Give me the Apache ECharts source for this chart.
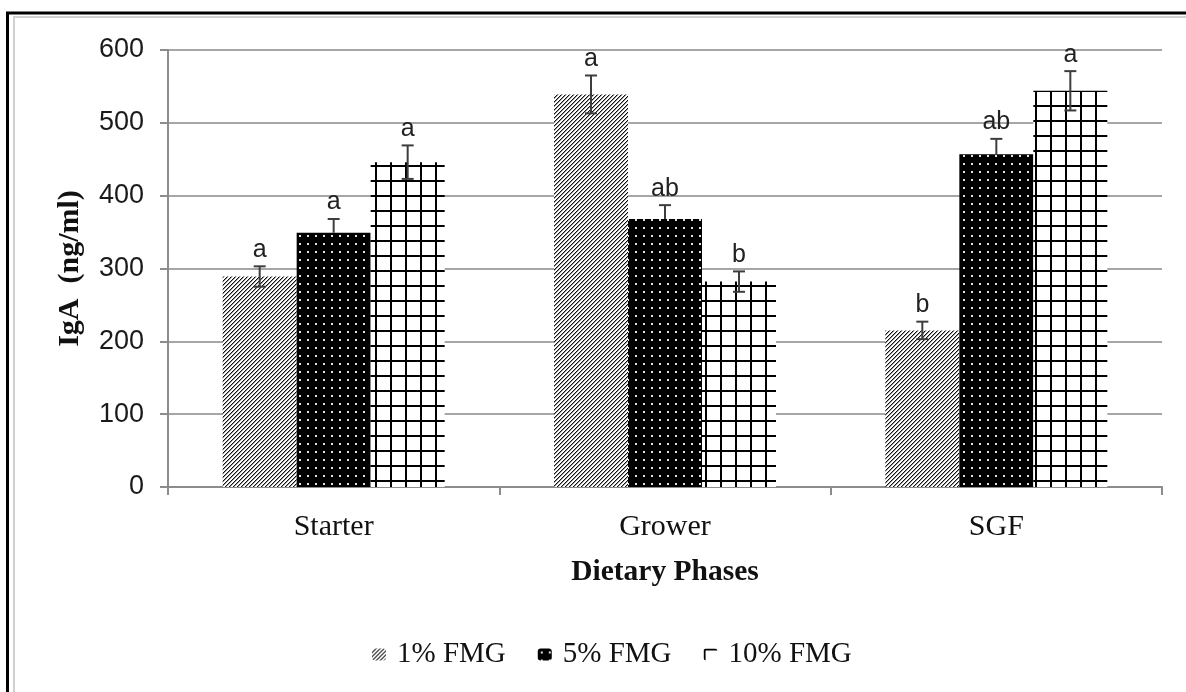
<!DOCTYPE html>
<html>
<head>
<meta charset="utf-8">
<script src="https://cdn.jsdelivr.net/npm/echarts@6/dist/echarts.min.js"></script>
<style>
html,body{margin:0;padding:0;background:#fff;}
#chart{width:1186px;height:692px;}
</style>
</head>
<body>
<div id="chart"></div>
<script>
// ---- data ----
const categories = ['Starter', 'Grower', 'SGF'];
const seriesNames = ['1% FMG', '5% FMG', '10% FMG'];
const fmg1 = [289, 539, 215];
const fmg5 = [349, 368, 457];
const fmg10 = [446, 282, 544];
const err1 = [14, 26, 12];
const err5 = [19, 19, 21];
const err10 = [23, 14, 27];
const letters1 = ['a', 'a', 'b'];
const letters5 = ['a', 'ab', 'ab'];
const letters10 = ['a', 'b', 'a'];
const yTicks = [0, 100, 200, 300, 400, 500, 600];

// ---- patterns ----
function makeTile(w, h, draw) {
  const c = document.createElement('canvas');
  c.width = w; c.height = h;
  const ctx = c.getContext('2d');
  draw(ctx, w, h);
  return c;
}
const hatchTile = makeTile(4, 4, (ctx) => {
  ctx.fillStyle = '#fff'; ctx.fillRect(0, 0, 4, 4);
  ctx.fillStyle = '#9a9a9a';
  for (let i = 0; i < 4; i++) ctx.fillRect((i + 1) % 4, 3 - i, 1, 1);
  ctx.fillStyle = '#111';
  for (let i = 0; i < 4; i++) ctx.fillRect(i, 3 - i, 1, 1);
});
const dotTile = makeTile(8, 8, (ctx) => {
  ctx.fillStyle = '#000'; ctx.fillRect(0, 0, 8, 8);
  ctx.fillStyle = '#e6e6e6'; ctx.fillRect(3, 3, 2, 2);
});
const gridTile = makeTile(15, 15, (ctx) => {
  ctx.fillStyle = '#fff'; ctx.fillRect(0, 0, 15, 15);
  ctx.fillStyle = '#000';
  ctx.fillRect(0, 0, 2, 15);
  ctx.fillRect(0, 0, 15, 2);
});
const patterns = [
  { image: hatchTile, repeat: 'repeat' },
  { image: dotTile, repeat: 'repeat' },
  { image: gridTile, repeat: 'repeat' }
];

const values = [fmg1, fmg5, fmg10];
const errs = [err1, err5, err10];
const letters = [letters1, letters5, letters10];
const catGap = 0.33;

// error bar data: [categoryIndex, seriesIndex, value, err]
const errData = [];
const errLetters = [];
for (let s = 0; s < 3; s++) {
  for (let c = 0; c < categories.length; c++) {
    errData.push([c, s, values[s][c], errs[s][c]]);
    errLetters.push(letters[s][c]);
  }
}

const chart = echarts.init(document.getElementById('chart'), null, { renderer: 'canvas' });

const barSeries = seriesNames.map((name, i) => ({
  name: name,
  type: 'bar',
  data: values[i],
  barGap: '0%',
  barCategoryGap: (catGap * 100) + '%',
  itemStyle: { color: patterns[i] },
  z: 2
}));

const option = {
  animation: false,
  backgroundColor: '#fff',
  grid: { left: 168, right: 24, top: 50, bottom: 205, containLabel: false, outerBoundsMode: 'none' },
  legend: {
    data: seriesNames,
    left: 367,
    top: 635,
    itemWidth: 14,
    itemHeight: 12,
    itemGap: 32,
    textStyle: { fontFamily: '"Liberation Serif", serif', fontSize: 29, color: '#111', padding: [0, 0, 0, 6] }
  },
  xAxis: {
    type: 'category',
    data: categories,
    name: 'Dietary Phases',
    nameLocation: 'middle',
    nameGap: 70,
    nameTextStyle: { fontFamily: '"Liberation Serif", serif', fontSize: 29.5, fontWeight: 'bold', color: '#111' },
    axisLine: { show: true, lineStyle: { color: '#8c8c8c', width: 2 } },
    axisTick: { show: true, alignWithLabel: false, length: 8, lineStyle: { color: '#8c8c8c', width: 2 } },
    axisLabel: { margin: 25, fontFamily: '"Liberation Serif", serif', fontSize: 30, color: '#111' },
    splitLine: { show: false }
  },
  yAxis: {
    type: 'value',
    min: 0,
    max: 600,
    interval: 100,
    name: 'IgA  (ng/ml)',
    nameLocation: 'middle',
    nameGap: 83,
    nameTextStyle: { fontFamily: '"Liberation Serif", serif', fontSize: 30, fontWeight: 'bold', color: '#111' },
    axisLine: { show: true, lineStyle: { color: '#8c8c8c', width: 2 } },
    axisTick: { show: true, length: 8, lineStyle: { color: '#8c8c8c', width: 2 } },
    axisLabel: {
      margin: 24,
      fontFamily: '"Liberation Sans", Arial, sans-serif',
      fontSize: 27,
      color: '#1a1a1a',
      formatter: (v) => (yTicks.indexOf(v) >= 0 ? String(v) : '')
    },
    splitLine: { show: true, lineStyle: { color: '#a6a6a6', width: 2 } }
  },
  series: barSeries.concat([{
    type: 'custom',
    name: 'errors',
    data: errData,
    z: 5,
    silent: true,
    encode: { x: 0, y: 2 },
    renderItem: function (params, api) {
      const c = api.value(0), s = api.value(1), v = api.value(2), e = api.value(3);
      const band = api.size([1, 0])[0];
      const bw = band * (1 - catGap) / 3;
      const cx = api.coord([c, 0])[0] + (s - 1) * bw;
      const yTop = api.coord([c, v + e])[1];
      const yMid = api.coord([c, v])[1];
      const yBot = api.coord([c, v - e])[1];
      const hw = 6;
      const st = { stroke: '#3d3d3d', lineWidth: 2 };
      const children = [
        { type: 'line', shape: { x1: cx, y1: yTop, x2: cx, y2: (s === 1 ? yMid : yBot) }, style: st },
        { type: 'line', shape: { x1: cx - hw, y1: yTop, x2: cx + hw, y2: yTop }, style: st }
      ];
      if (s !== 1) {
        children.push({ type: 'line', shape: { x1: cx - hw, y1: yBot, x2: cx + hw, y2: yBot }, style: st });
      }
      children.push({
        type: 'text',
        style: {
          text: errLetters[params.dataIndex],
          x: cx,
          y: yTop - 4,
          align: 'center',
          verticalAlign: 'bottom',
          fontFamily: '"Liberation Sans", Arial, sans-serif',
          fontSize: 25,
          fill: '#222'
        }
      });
      return { type: 'group', children: children };
    }
  }]),
  graphic: [
    { type: 'line', shape: { x1: 13, y1: 17, x2: 1186, y2: 17 }, style: { stroke: '#d0d0d0', lineWidth: 2 }, z: 0 },
    { type: 'line', shape: { x1: 14, y1: 17, x2: 14, y2: 692 }, style: { stroke: '#d0d0d0', lineWidth: 2 }, z: 0 },
    { type: 'line', shape: { x1: 6, y1: 13, x2: 1186, y2: 13 }, style: { stroke: '#000', lineWidth: 3 }, z: 1 },
    { type: 'line', shape: { x1: 7.5, y1: 12, x2: 7.5, y2: 692 }, style: { stroke: '#000', lineWidth: 3 }, z: 1 }
  ]
};

chart.setOption(option);
</script>
</body>
</html>
